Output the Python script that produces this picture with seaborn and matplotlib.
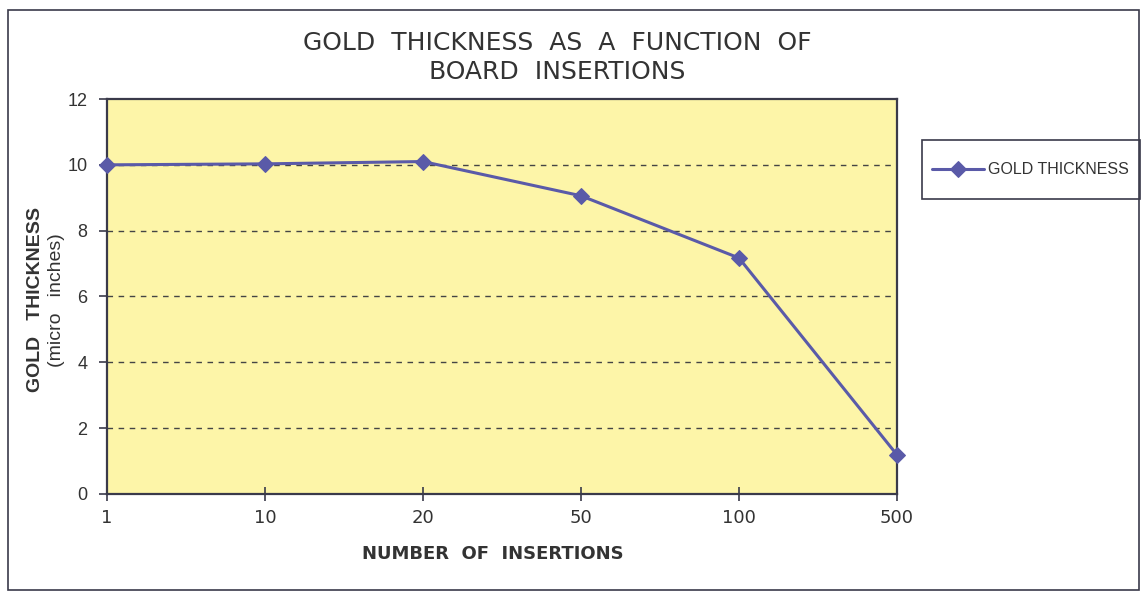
import pandas as pd
import matplotlib.pyplot as plt
import seaborn as sns
from matplotlib.patches import Rectangle

# ---------------- DATA ---------------- #

insertions = ["1", "10", "20", "50", "100", "500"]
gold_thickness = [10.0, 10.03, 10.1, 9.06, 7.17, 1.19]
y_ticks = [0, 2, 4, 6, 8, 10, 12]

df = pd.DataFrame({"insertions": insertions, "thickness": gold_thickness,
                   "series": "GOLD THICKNESS"})

# ---------------- STYLE ---------------- #

sns.set_theme(style="white")
NARROW = ['Liberation Sans Narrow', 'DejaVu Sans Condensed', 'DejaVu Sans']
REGULAR = ['Liberation Sans', 'DejaVu Sans']
plt.rcParams['font.family'] = NARROW

LINE_COL = "#5a5aa8"
AREA_COL = "#fdf5a8"
EDGE_COL = "#3a3a4a"
TEXT_COL = "#333333"

fig = plt.figure(figsize=(11.47, 5.94), dpi=100)
fig.patch.set_facecolor("white")
ax = fig.add_axes([0.0933, 0.1684, 0.6887, 0.6649])
ax.set_facecolor(AREA_COL)

# ---------------- PLOT ---------------- #

sns.lineplot(data=df, x="insertions", y="thickness", hue="series",
             palette=[LINE_COL], marker="D", markersize=8.5, linewidth=2.2,
             markeredgecolor=LINE_COL, sort=False, ax=ax, zorder=3,
             clip_on=False)

ax.set_xlim(0, len(insertions) - 1)
ax.set_ylim(0, 12)
ax.set_yticks(y_ticks)
ax.set_yticklabels([str(t) for t in y_ticks], fontsize=13, family=REGULAR,
                   color=TEXT_COL)
ax.set_xticks(range(len(insertions)))
ax.set_xticklabels(insertions, fontsize=13, family=NARROW, color=TEXT_COL)

for t in [2, 4, 6, 8, 10]:
    ax.axhline(t, color="#444444", linestyle=(0, (4, 4)), linewidth=1.0, zorder=1)

for s in ax.spines.values():
    s.set_color(EDGE_COL)
    s.set_linewidth(1.6)

ax.tick_params(axis="y", left=True, direction="out", length=6, width=1.2,
               color=EDGE_COL, pad=8)
ax.tick_params(axis="x", bottom=True, direction="inout", length=10, width=1.2,
               color=EDGE_COL, pad=6)

ax.set_xlabel("")
ax.set_ylabel("")

# ---------------- TEXT ---------------- #

fig.text(0.486, 0.928, "GOLD  THICKNESS  AS  A  FUNCTION  OF", ha="center", va="center",
         fontsize=18, family=NARROW, color=TEXT_COL)
fig.text(0.486, 0.878, "BOARD  INSERTIONS", ha="center", va="center",
         fontsize=18, family=NARROW, color=TEXT_COL)

fig.text(0.43, 0.068, "NUMBER  OF  INSERTIONS", ha="center", va="center",
         fontsize=13, family=NARROW, color=TEXT_COL, fontweight="bold")

fig.text(0.031, 0.495, "GOLD   THICKNESS", rotation=90, ha="center",
         va="center", fontsize=14, family=REGULAR, color=TEXT_COL, fontweight="bold")
fig.text(0.049, 0.495, "(micro   inches)", rotation=90, ha="center",
         va="center", fontsize=14, family=REGULAR, color=TEXT_COL)

# ---------------- LEGEND ---------------- #

handles, labels = ax.get_legend_handles_labels()
ax.get_legend().remove()
leg = fig.legend(handles, labels, loc="center left", bbox_to_anchor=(0.806, 0.714),
                 frameon=False, handlelength=3.2, handletextpad=0.3,
                 borderpad=0.0, prop={"family": REGULAR, "size": 11.5})
for txt in leg.get_texts():
    txt.set_color(TEXT_COL)

# legend box
fig.patches.append(Rectangle((0.804, 0.665), 0.19, 0.099, transform=fig.transFigure,
                             fill=False, edgecolor=EDGE_COL, linewidth=1.2))

# outer chart border
fig.patches.append(Rectangle((0.007, 0.007), 0.986, 0.976, transform=fig.transFigure,
                             fill=False, edgecolor=EDGE_COL, linewidth=1.2))

fig.savefig("out.png", dpi=100)
